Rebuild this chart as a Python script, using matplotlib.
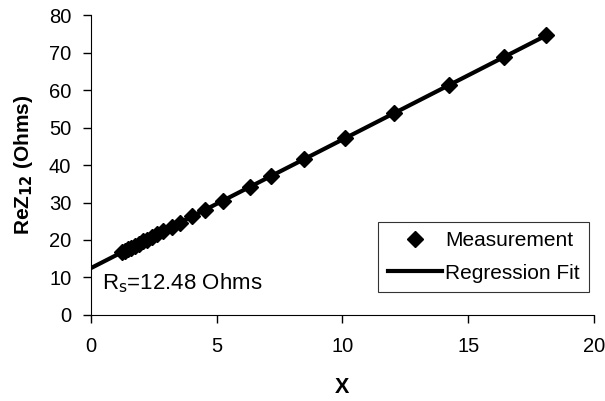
import numpy as np
import matplotlib.pyplot as plt

plt.rcParams['font.family'] = ['Liberation Sans', 'DejaVu Sans']

x_meas = [1.23, 1.35, 1.47, 1.59, 1.75, 1.91, 2.07, 2.23, 2.43, 2.62, 2.86,
          3.22, 3.54, 4.02, 4.53, 5.25, 6.32, 7.16, 8.47, 10.10, 12.05,
          14.23, 16.42, 18.09]
y_meas = [16.7, 17.1, 17.5, 17.9, 18.5, 19.0, 19.6, 20.1, 20.8, 21.5, 22.3,
          23.5, 24.6, 26.3, 28.0, 30.5, 34.2, 37.0, 41.5, 47.2, 53.8,
          61.3, 68.8, 74.6]

# regression fit
intercept = 12.48
slope = 3.43
x_fit = [0.0, 18.2]

fig = plt.figure(figsize=(6.05, 4.01), dpi=100)
ax = fig.add_axes([0.150, 0.2145, 0.832, 0.748])

y_fit = [intercept + slope * v for v in x_fit]
ax.plot(x_fit, y_fit, color='black', lw=3, label='Regression Fit', zorder=2)
ax.plot(x_meas, y_meas, ls='none', marker='D', ms=8, color='black',
        label='Measurement', zorder=3)

ax.set_xlim(0, 20)
ax.set_ylim(0, 80)
ax.set_xticks(np.arange(0, 21, 5))
ax.set_yticks(np.arange(0, 81, 10))
ax.spines['top'].set_visible(False)
ax.spines['right'].set_visible(False)
ax.tick_params(direction='out', length=6, width=1, labelsize=14.5)
ax.tick_params(axis='y', pad=8)
ax.tick_params(axis='x', pad=10)

ax.set_xlabel('X', fontsize=15.5, fontweight='bold', labelpad=15)
ax.set_ylabel(r'ReZ$_{\mathbf{12}}$ (Ohms)', fontsize=15, fontweight='bold', labelpad=10)

ax.text(0.44, 6.7, r'R$_{\mathrm{s}}$=12.48 Ohms', fontsize=16)

handles, labels = ax.get_legend_handles_labels()
leg = ax.legend(handles[::-1], labels[::-1], loc='lower right',
                bbox_to_anchor=(0.99, 0.077), fontsize=15, frameon=True,
                fancybox=False, edgecolor='black', handlelength=2.6,
                handletextpad=0.15, borderpad=0.45, labelspacing=0.65,
                borderaxespad=0)
leg.get_frame().set_linewidth(0.8)

fig.savefig('out.png', dpi=100)
